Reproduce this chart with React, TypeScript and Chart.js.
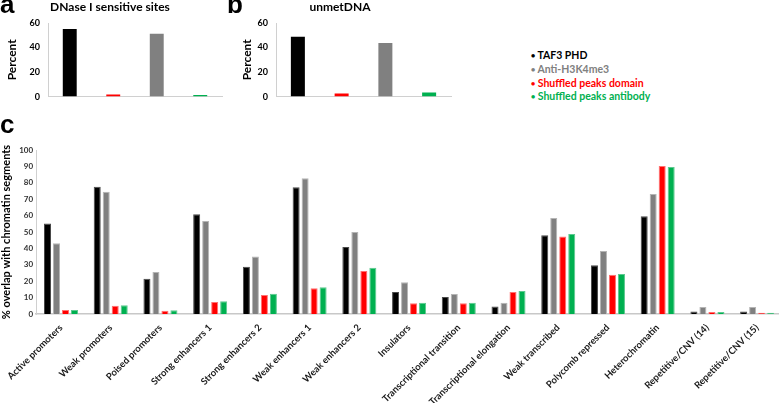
import React, { useEffect, useRef } from "react";
import { Chart, registerables } from "chart.js";

Chart.register(...registerables);

// ---------- Data ----------
const smallCategories = ["TAF3 PHD", "Shuffled peaks domain", "Anti-H3K4me3", "Shuffled peaks antibody"];
const smallColors = ["#000000", "#ff0000", "#808080", "#00b050"];
const dnaseValues = [55.2, 1.8, 51.3, 1.3];
const unmetValues = [48.7, 2.6, 43.6, 3.4];
const smallMax = 60;
const smallStep = 20;

const segments = [
  "Active promoters",
  "Weak promoters",
  "Poised promoters",
  "Strong enhancers 1",
  "Strong enhancers 2",
  "Weak enhancers 1",
  "Weak enhancers 2",
  "Insulators",
  "Transcriptional transition",
  "Transcriptional elongation",
  "Weak transcribed",
  "Polycomb repressed",
  "Heterochromatin",
  "Repetitive/CNV (14)",
  "Repetitive/CNV (15)",
];
const taf3 = [55.2, 77.6, 21.5, 60.8, 28.8, 77.3, 40.8, 13.4, 10.4, 4.5, 48.0, 29.8, 59.6, 1.6, 1.6];
const antiH3 = [43.1, 74.6, 25.6, 56.7, 35.0, 82.7, 50.0, 19.3, 12.2, 6.9, 58.5, 38.4, 73.2, 4.3, 4.2];
const shufDomain = [2.4, 5.1, 2.0, 7.3, 11.6, 15.7, 26.2, 6.5, 6.5, 13.4, 47.3, 24.0, 90.2, 1.2, 0.7];
const shufAntibody = [2.4, 5.4, 2.3, 7.8, 12.4, 16.3, 28.2, 6.9, 6.9, 14.0, 48.8, 24.4, 89.6, 1.2, 0.7];
const seriesNames = ["TAF3 PHD", "Anti-H3K4me3", "Shuffled peaks domain", "Shuffled peaks antibody"];
const seriesColors = ["#000000", "#808080", "#ff0000", "#00b050"];
const seriesBorders = ["#4a4a4a", "#b5b5b5", "#ff7070", "#5cc98f"];
const mainMax = 100;
const mainStep = 10;

const FONT = "Lato, 'Open Sans', 'DejaVu Sans', sans-serif";

function smallConfig(values: number[], titlePad: number, rightPad: number): any {
  return {
    type: "bar",
    data: {
      labels: smallCategories,
      datasets: [
        {
          data: values,
          backgroundColor: smallColors,
          borderWidth: 0,
          categoryPercentage: 1,
          barPercentage: 0.32,
        },
      ],
    },
    options: {
      animation: false,
      responsive: false,
      maintainAspectRatio: false,
      layout: { padding: { top: 23, right: rightPad, left: 0, bottom: 0 } },
      plugins: { legend: { display: false }, tooltip: { enabled: false }, title: { display: false } },
      scales: {
        x: {
          grid: { display: false, drawTicks: false },
          ticks: { display: false },
          border: { display: true, color: "#d0d0d0", width: 1 },
          afterFit: (s: any) => {
            s.height = 12;
          },
        },
        y: {
          min: 0,
          max: smallMax,
          ticks: {
            stepSize: smallStep,
            font: { family: FONT, weight: "bold", size: 9 },
            color: "#000000",
            padding: 8,
          },
          grid: { display: false, drawTicks: false },
          border: { display: true, color: "#d0d0d0", width: 1 },
          title: {
            display: true,
            text: "Percent",
            color: "#000000",
            font: { family: FONT, weight: "bold", size: 12 },
            padding: { top: titlePad, bottom: 0 },
          },
          afterFit: (s: any) => {
            s.width = 48;
          },
        },
      },
    },
  };
}

function mainConfig(): any {
  return {
    type: "bar",
    data: {
      labels: segments,
      datasets: [taf3, antiH3, shufDomain, shufAntibody].map((d, i) => ({
        label: seriesNames[i],
        data: d,
        backgroundColor: seriesColors[i],
        borderColor: seriesBorders[i],
        borderWidth: 1,
        categoryPercentage: 0.724,
        barPercentage: 0.78,
      })),
    },
    options: {
      animation: false,
      responsive: false,
      maintainAspectRatio: false,
      layout: { padding: { top: 30, right: 8, left: 0, bottom: 0 } },
      plugins: { legend: { display: false }, tooltip: { enabled: false } },
      scales: {
        x: {
          grid: { display: false, drawTicks: false },
          border: { display: true, color: "#c8c8c8", width: 1.5 },
          ticks: {
            autoSkip: false,
            maxRotation: 45,
            minRotation: 45,
            padding: 8,
            color: "#1a1a1a",
            font: { family: FONT, weight: "bold", size: 9.5 },
          },
          afterFit: (s: any) => {
            s.height = 89;
          },
        },
        y: {
          min: 0,
          max: mainMax,
          ticks: {
            stepSize: mainStep,
            padding: 3,
            color: "#333333",
            font: { family: FONT, weight: "bold", size: 8 },
          },
          grid: { display: false, drawTicks: false },
          border: { display: true, color: "#d0d0d0", width: 1 },
          title: {
            display: true,
            text: "% overlap with chromatin segments",
            color: "#000000",
            font: { family: FONT, weight: "bold", size: 11 },
            padding: { top: 0, bottom: 0 },
          },
          afterFit: (s: any) => {
            s.width = 36;
          },
        },
      },
    },
  };
}

function ChartCanvas(props: { config: () => any; left: number; top: number; width: number; height: number }) {
  const ref = useRef<HTMLCanvasElement | null>(null);
  useEffect(() => {
    if (!ref.current) return;
    const chart = new Chart(ref.current, props.config());
    return () => chart.destroy();
  }, []);
  return (
    <canvas
      ref={ref}
      width={props.width}
      height={props.height}
      style={{ position: "absolute", left: props.left, top: props.top, width: props.width, height: props.height }}
    />
  );
}

const letterStyle: React.CSSProperties = {
  position: "absolute",
  fontFamily: "'Liberation Sans', Arial, sans-serif",
  fontWeight: "bold",
  fontSize: 26,
  lineHeight: "26px",
  color: "#000",
};

const titleStyle: React.CSSProperties = {
  position: "absolute",
  width: 200,
  textAlign: "center",
  fontFamily: FONT,
  fontWeight: "bold",
  fontSize: 12,
  lineHeight: "14px",
  color: "#000",
  whiteSpace: "nowrap",
};

export default function App() {
  return (
    <div
      style={{
        position: "fixed",
        left: 0,
        top: 0,
        width: 779,
        height: 403,
        overflow: "hidden",
        background: "#ffffff",
      }}
    >
      <ChartCanvas config={() => smallConfig(dnaseValues, 5, 8)} left={0} top={0} width={230} height={110} />
      <ChartCanvas config={() => smallConfig(unmetValues, 12, 7)} left={228} top={0} width={230} height={110} />
      <ChartCanvas config={mainConfig} left={0} top={120} width={790} height={283} />

      <div style={{ ...letterStyle, left: 0, top: -9 }}>a</div>
      <div style={{ ...letterStyle, left: 227, top: -9 }}>b</div>
      <div style={{ ...letterStyle, left: 0, top: 111 }}>c</div>

      <div style={{ ...titleStyle, left: 10, top: 0 }}>DNase I sensitive sites</div>
      <div style={{ ...titleStyle, left: 240, top: 0 }}>unmetDNA</div>

      <div
        style={{
          position: "absolute",
          left: 531,
          top: 49,
          fontFamily: FONT,
          fontWeight: "bold",
          fontSize: 10.5,
          lineHeight: "13.8px",
          whiteSpace: "nowrap",
        }}
      >
        {seriesNames.map((n, i) => (
          <div key={n} style={{ color: seriesColors[i] }}>
            <span style={{ fontSize: 7, verticalAlign: "1px" }}>{"\u25CF"}</span>
            {" " + n}
          </div>
        ))}
      </div>
    </div>
  );
}
